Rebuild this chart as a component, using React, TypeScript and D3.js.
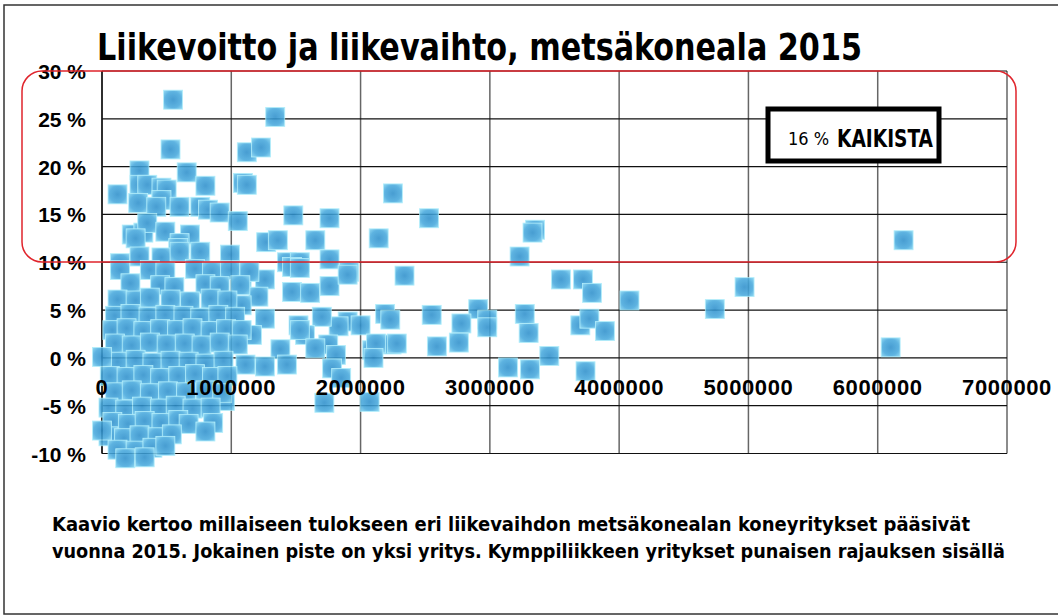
import React from 'react';
import * as d3 from 'd3';

// turnover in millions of euros, operating margin in %
const companies: [number, number][] = [
  // upper area
  [0.55, 27.0], [1.34, 25.2], [0.53, 21.8], [1.12, 21.5], [1.23, 22.0], [0.12, 17.1], [0.29, 19.6],
  [0.655, 19.4], [0.8, 18.0], [1.09, 18.3], [1.12, 18.1], [0.29, 18.1], [0.35, 18.1], [0.46, 17.8],
  [0.5, 17.6], [0.46, 16.5], [0.28, 16.2], [0.42, 15.8], [0.6, 15.8], [0.76, 15.8], [0.82, 15.5],
  [0.91, 15.2], [1.05, 14.3], [1.48, 14.9], [1.76, 14.6], [2.25, 17.2], [2.53, 14.6],
  // 10..15 %
  [0.23, 12.9], [0.32, 13.1], [0.35, 14.1], [0.49, 13.2], [0.68, 12.9], [0.6, 12.0], [0.59, 11.5],
  [0.26, 12.5], [0.29, 10.6], [0.46, 10.5], [0.6, 11.1], [0.76, 11.1], [0.99, 10.8], [1.27, 12.1],
  [1.36, 12.3], [1.65, 12.3], [2.14, 12.5], [3.35, 13.4], [3.33, 13.1], [3.23, 10.6], [0.14, 9.9],
  [1.76, 10.3], [1.43, 10.0], [1.53, 10.0], [6.2, 12.3],
  // 5..10 % outside the cluster
  [1.91, 9.0], [2.34, 8.6], [1.76, 7.5], [3.55, 8.2], [3.72, 8.2], [3.79, 6.8], [4.08, 6.0],
  [4.97, 7.4], [4.74, 5.1], [1.47, 9.5], [1.53, 9.4], [1.9, 8.7], [1.47, 6.9], [1.61, 6.8],
  [1.26, 8.2], [1.08, 8.3], [1.21, 6.4], [1.08, 5.5],
  // 0..5 % outside the cluster
  [2.55, 4.5], [2.19, 4.6], [2.23, 4.0], [2.91, 5.1], [2.98, 4.0], [2.98, 3.2], [2.78, 3.6],
  [3.27, 4.6], [3.3, 2.6], [3.7, 3.4], [3.77, 4.1], [3.89, 2.8], [2.76, 1.6], [2.59, 1.2],
  [3.46, 0.2], [6.1, 1.1], [2.24, 1.4], [2.09, 0.8], [1.9, 3.8], [1.83, 3.3], [1.7, 4.3],
  [1.75, 1.4], [1.81, 0.3], [1.57, 2.4], [1.52, 3.4], [1.38, 0.9], [1.26, 4.1], [1.16, 2.4],
  [1.53, 2.9], [1.65, 1.0], [2.0, 3.4], [2.12, 1.5], [2.28, 1.5], [2.1, 0.0],
  // losses outside the cluster
  [3.14, -1.0], [3.31, -1.2], [3.74, -1.4], [1.43, -0.7], [1.78, -1.1], [1.85, -2.1], [1.72, -4.7],
  [2.07, -4.6], [1.26, -0.9], [1.11, -0.7], [0.95, -4.5],
  // dense cluster under 1 M
  [0.14, 9.2], [0.37, 9.2], [0.49, 9.0], [0.72, 9.3], [0.85, 9.0], [0.99, 9.2], [1.14, 9.0],
  [0.22, 7.8], [0.45, 7.6], [0.56, 7.4], [0.8, 7.7], [0.91, 7.5], [1.07, 7.6],
  [0.12, 6.1], [0.26, 6.0], [0.37, 6.3], [0.53, 6.1], [0.68, 5.9], [0.84, 6.2], [0.97, 6.0],
  [0.1, 4.4], [0.22, 4.6], [0.36, 4.3], [0.49, 4.5], [0.63, 4.4], [0.76, 4.2], [0.9, 4.5], [1.03, 4.3],
  [0.08, 2.9], [0.19, 3.1], [0.32, 2.8], [0.45, 3.0], [0.58, 2.9], [0.7, 3.1], [0.84, 2.8], [0.96, 3.0], [1.08, 2.9],
  [0.1, 1.5], [0.23, 1.3], [0.37, 1.6], [0.5, 1.4], [0.64, 1.5], [0.77, 1.3], [0.91, 1.6], [1.05, 1.4],
  [0.12, -0.4], [0.26, -0.2], [0.39, -0.5], [0.53, -0.3], [0.67, -0.4], [0.8, -0.6], [0.94, -0.3],
  [0.06, -1.9], [0.19, -2.0], [0.32, -1.8], [0.45, -2.1], [0.59, -1.9], [0.72, -1.7], [0.85, -2.0], [0.97, -1.9],
  [0.1, -3.6], [0.23, -3.4], [0.37, -3.7], [0.51, -3.5], [0.65, -3.6], [0.8, -3.4], [0.93, -3.7],
  [0.05, -5.2], [0.18, -5.4], [0.31, -5.1], [0.45, -5.3], [0.57, -5.0], [0.7, -5.3], [0.84, -5.2],
  [0.08, -6.7], [0.2, -6.9], [0.33, -6.6], [0.46, -6.8], [0.59, -6.5], [0.67, -6.9], [0.86, -6.8],
  [0.05, -8.2], [0.17, -8.4], [0.29, -8.1], [0.43, -8.3], [0.54, -8.0], [0.8, -7.7],
  [0.12, -9.6], [0.26, -9.7], [0.39, -9.4], [0.49, -9.2], [0.18, -10.5], [0.33, -10.4],
  [0.0, 0.1], [0.0, -7.6],
];

const xTicks = [0, 1000000, 2000000, 3000000, 4000000, 5000000, 6000000, 7000000];
const yTicks = [30, 25, 20, 15, 10, 5, 0, -5, -10];

const title = 'Liikevoitto ja liikevaihto, metsäkoneala 2015';
const boxShare = '16 %';
const boxLabel = 'KAIKISTA';
const caption = [
  'Kaavio kertoo millaiseen tulokseen eri liikevaihdon metsäkonealan koneyritykset pääsivät',
  'vuonna 2015. Jokainen piste on yksi yritys. Kymppiliikkeen yritykset punaisen rajauksen sisällä',
];

const W = 1058;
const H = 616;
const condensed = '"Liberation Sans Narrow", "DejaVu Sans Condensed", "Liberation Sans", sans-serif';
const bold = '"Liberation Sans", Arial, sans-serif';

export default function App() {
  const x = d3.scaleLinear().domain([0, 7000000]).range([102, 1007]);
  const y = d3.scaleLinear().domain([-10, 30]).range([453.5, 71]);
  const s = 19;

  return (
    <svg width={W} height={H} style={{ position: 'absolute', left: 0, top: 0, background: '#fff' }}>
      <defs>
        <radialGradient id="dot" cx="50%" cy="50%" r="70%">
          <stop offset="0%" stopColor="#2f90cc" />
          <stop offset="60%" stopColor="#48a9dd" />
          <stop offset="100%" stopColor="#88d8f4" />
        </radialGradient>
      </defs>
      <rect x={4} y={5} width={1080} height={609} fill="none" stroke="#333" strokeWidth={1.5} />

      <text x={97} y={60} fontFamily={condensed} fontWeight="bold" fontSize={38}
        textLength={765} lengthAdjust="spacingAndGlyphs">{title}</text>

      {/* grid */}
      {xTicks.map(t => (
        <line key={'vx' + t} x1={x(t)} x2={x(t)} y1={y(30)} y2={y(-10)} stroke="#666" strokeWidth={1.5} />
      ))}
      {yTicks.map(t => (
        <line key={'hy' + t} x1={x(0)} x2={x(7000000)} y1={y(t)} y2={y(t)} stroke="#111" strokeWidth={1.2} />
      ))}
      <line x1={x(0)} x2={x(0)} y1={y(30)} y2={y(-10)} stroke="#111" strokeWidth={1.5} />

      {/* companies */}
      <g opacity={0.88}>
        {companies.map((d, i) => (
          <rect key={i} x={x(d[0] * 1e6) - s / 2} y={y(d[1]) - s / 2} width={s} height={s}
            fill="url(#dot)" stroke="#a8ecfb" strokeWidth={0.8} />
        ))}
      </g>

      {/* axis labels */}
      {yTicks.map(t => (
        <text key={'yl' + t} x={86} y={y(t) + 8} textAnchor="end" fontFamily={bold}
          fontWeight="bold" fontSize={21}>{`${t} %`}</text>
      ))}
      {xTicks.map(t => (
        <text key={'xl' + t} x={x(t)} y={y(0) + 37} textAnchor="middle" fontFamily={bold}
          fontWeight="bold" fontSize={22} letterSpacing={0.6}>{t}</text>
      ))}

      {/* red selection and box */}
      <rect x={22} y={71} width={994} height={191} rx={20} fill="none" stroke="#e0242c" strokeWidth={1.5} />
      <rect x={768} y={109} width={171} height={52} fill="#fff" stroke="#000" strokeWidth={5} />
      <text x={788} y={145} fontFamily={condensed} fontSize={18}>{boxShare}</text>
      <text x={837} y={147} fontFamily={condensed} fontWeight="bold" fontSize={25}
        textLength={96} lengthAdjust="spacingAndGlyphs">{boxLabel}</text>

      {/* caption */}
      <text x={52} y={531} fontFamily={condensed} fontWeight="bold" fontSize={19}
        textLength={918} lengthAdjust="spacingAndGlyphs">{caption[0]}</text>
      <text x={52} y={558} fontFamily={condensed} fontWeight="bold" fontSize={19}
        textLength={953} lengthAdjust="spacingAndGlyphs">{caption[1]}</text>
    </svg>
  );
}
